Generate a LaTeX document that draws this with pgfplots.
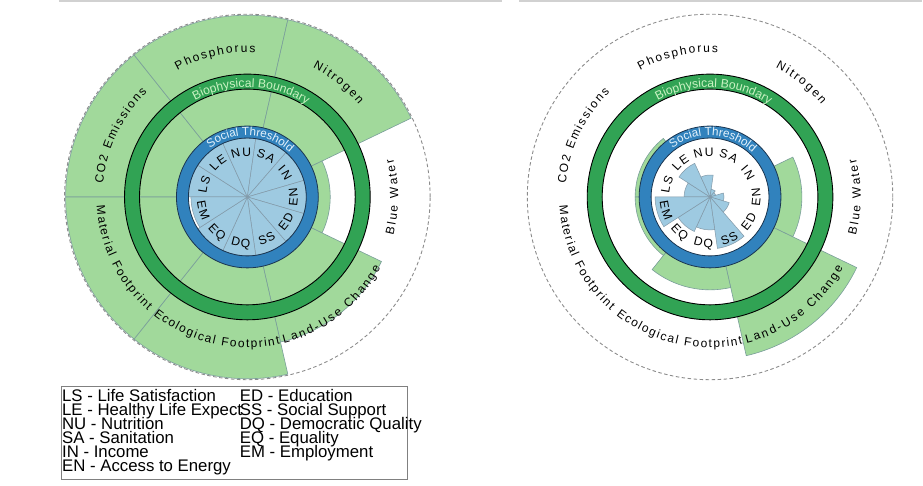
\documentclass[border=0pt]{standalone}
\usepackage{pgfplots}
\pgfplotsset{compat=1.18}
\usepackage{pgfplotstable}
\usepackage{fontspec}
\setmainfont{Liberation Sans}
\usetikzlibrary{decorations.text}

\definecolor{bgreen}{HTML}{A1D99B}
\definecolor{sline}{HTML}{7A9E9A}
\definecolor{dgreen}{HTML}{31A354}
\definecolor{bluering}{HTML}{3182BD}
\definecolor{blueedge}{HTML}{1B3550}
\definecolor{lblue}{HTML}{9ECAE1}
\definecolor{socline}{HTML}{8299A8}
\definecolor{bbtext}{HTML}{C9F2C2}
\definecolor{sttext}{HTML}{E4F2FC}
\definecolor{dashc}{HTML}{8C8C8C}

\pgfdeclareplotmark{wedge}{%
  \pgfmathsetmacro\wAv{\wA}\pgfmathsetmacro\wBv{\wB}\pgfmathsetmacro\wRv{\wR}%
  \pgfpathmoveto{\pgfpointorigin}%
  \pgfpathlineto{\pgfpointpolar{\wAv}{\wRv pt}}%
  \pgfpatharc{\wAv}{\wBv}{\wRv pt}%
  \pgfpathclose
  \pgfusepathqfillstroke}
\pgfdeclareplotmark{ring}{%
  \pgfmathsetmacro\wIv{\wI}\pgfmathsetmacro\wRv{\wR}%
  \pgfpathcircle{\pgfpointorigin}{\wRv pt}%
  \pgfpathcircle{\pgfpointorigin}{\wIv pt}%
  \pgfseteorule
  \pgfusepathqfillstroke}
\pgfdeclareplotmark{disk}{%
  \pgfmathsetmacro\wRv{\wR}%
  \pgfpathcircle{\pgfpointorigin}{\wRv pt}%
  \pgfusepathqfill}
\pgfdeclareplotmark{circ}{%
  \pgfmathsetmacro\wRv{\wR}%
  \pgfpathcircle{\pgfpointorigin}{\wRv pt}%
  \pgfusepathqstroke}

\pgfplotsset{
  wedgeplot/.style={scatter, only marks, mark=wedge, point meta=\thisrow{r},
    visualization depends on={\thisrow{a1}\as\wA},
    visualization depends on={\thisrow{a2}\as\wB},
    visualization depends on={\thisrow{r}\as\wR}},
  ringplot/.style={scatter, only marks, mark=ring, point meta=\thisrow{ro},
    visualization depends on={\thisrow{ri}\as\wI},
    visualization depends on={\thisrow{ro}\as\wR}},
  diskplot/.style={scatter, only marks, mark=disk, point meta=\thisrow{ro},
    visualization depends on={\thisrow{ro}\as\wR}},
  circplot/.style={scatter, only marks, mark=circ, point meta=\thisrow{ro},
    visualization depends on={\thisrow{ro}\as\wR}},
}

% biophysical indicators (radius in px), left chart
\pgfplotstableread{
cx cy a1 a2 r
247.7 289 180 128.57 182
247.7 289 128.57 77.14 182
247.7 289 77.14 25.71 182
247.7 289 25.71 -25.71 83
247.7 289 -25.71 -77.14 149
247.7 289 -77.14 -128.57 182
247.7 289 -128.57 -180 182
}\bioL
% biophysical indicators, right chart
\pgfplotstableread{
cx cy a1 a2 r
711 289 180 128.57 75
711 289 128.57 77.14 66
711 289 77.14 25.71 66
711 289 25.71 -25.71 92
711 289 -25.71 -77.14 163
711 289 -77.14 -128.57 93
711 289 -128.57 -180 75
}\bioR
% social indicators, left chart
\pgfplotstableread{
cx cy a1 a2 r
247.7 289 180 147.27 59
247.7 289 147.27 114.55 59
247.7 289 114.55 81.82 59
247.7 289 81.82 49.09 59
247.7 289 49.09 16.36 59
247.7 289 16.36 -16.36 59
247.7 289 -16.36 -49.09 59
247.7 289 -49.09 -81.82 59
247.7 289 -81.82 -114.55 59
247.7 289 -114.55 -147.27 59
247.7 289 -147.27 -180 56.5
}\socL
% social indicators, right chart
\pgfplotstableread{
cx cy a1 a2 r
711 289 180 147.27 26
711 289 147.27 114.55 37
711 289 114.55 81.82 22
711 289 81.82 49.09 8
711 289 49.09 16.36 6
711 289 16.36 -16.36 14
711 289 -16.36 -49.09 20
711 289 -49.09 -81.82 52
711 289 -81.82 -114.55 33
711 289 -114.55 -147.27 38
711 289 -147.27 -180 55
}\socR
% rings
\pgfplotstableread{
cx cy ri ro
247.7 289 108 123
711 289 108 123
}\greenRing
\pgfplotstableread{
cx cy ri ro
247.7 289 59 71
711 289 59 71
}\blueRing
\pgfplotstableread{
cx cy ro
247.7 289 59
711 289 59
}\innerDisk
\pgfplotstableread{
cx cy ro
247.7 289 183
711 289 183
}\outerCirc

\newcommand\bio{\fontsize{12}{14}\selectfont}
\newcommand\soc{\fontsize{12.2}{14}\selectfont}
\newcommand\bbf{\fontsize{12.2}{14}\selectfont\color{bbtext}}
\newcommand\stf{\fontsize{11.7}{14}\selectfont\color{sttext}}

% curved labels (drawn after the axis; axis units are 1pt with origin at (0,0))
\newcommand\cwlab[6]{%
  \path[decorate, decoration={text along path, text align=fit to path, text={#6}}]
    ([shift={({#3+#5/2}:#4pt)}]#1pt,#2pt) arc[start angle={#3+#5/2}, end angle={#3-#5/2}, radius=#4pt];}
\newcommand\ccwlab[6]{%
  \path[decorate, decoration={text along path, text align=fit to path, text={#6}}]
    ([shift={({#3-#5/2}:#4pt)}]#1pt,#2pt) arc[start angle={#3-#5/2}, end angle={#3+#5/2}, radius=#4pt];}
\newcommand\cwlabc[6]{%
  \path[decorate, decoration={text along path, text align=center, text={#6}}]
    ([shift={({#3+#5/2}:#4pt)}]#1pt,#2pt) arc[start angle={#3+#5/2}, end angle={#3-#5/2}, radius=#4pt];}

\newcommand\chartlabels[2]{%
  \cwlab{#1}{#2}{154.29}{145}{41}{|\bio|CO2 Emissions}
  \cwlab{#1}{#2}{102.86}{145}{32}{|\bio|Phosphorus}
  \cwlab{#1}{#2}{51.43}{145}{23.4}{|\bio|Nitrogen}
  \ccwlab{#1}{#2}{0}{151}{29.4}{|\bio|Blue Water}
  \ccwlab{#1}{#2}{-52}{151}{48}{|\bio|Land-Use Change}
  \ccwlab{#1}{#2}{-103}{151}{51}{|\bio|Ecological Footprint}
  \ccwlab{#1}{#2}{-154}{151}{45.5}{|\bio|Material Footprint}
  \cwlabc{#1}{#2}{88}{110}{100}{|\bbf|Biophysical Boundary}
  \cwlabc{#1}{#2}{87}{61.5}{120}{|\stf|Social Threshold}
  \cwlab{#1}{#2}{163.64}{41}{23}{|\soc|LS}
  \cwlab{#1}{#2}{130.91}{41}{23}{|\soc|LE}
  \cwlab{#1}{#2}{98.18}{41}{26.7}{|\soc|NU}
  \cwlab{#1}{#2}{65.45}{41}{24.8}{|\soc|SA}
  \cwlab{#1}{#2}{32.73}{41}{19}{|\soc|IN}
  \ccwlab{#1}{#2}{0}{50.5}{21}{|\soc|EN}
  \ccwlab{#1}{#2}{-32.73}{50.5}{21}{|\soc|ED}
  \ccwlab{#1}{#2}{-65.45}{50.5}{20.2}{|\soc|SS}
  \ccwlab{#1}{#2}{-98.18}{50.5}{22.5}{|\soc|DQ}
  \ccwlab{#1}{#2}{-130.91}{50.5}{21.7}{|\soc|EQ}
  \ccwlab{#1}{#2}{-163.64}{50.5}{22.5}{|\soc|EM}
}

\begin{document}
\begin{tikzpicture}
\begin{axis}[x=1pt, y=1pt, xmin=0, xmax=923, ymin=0, ymax=486,
  hide axis, clip=false, at={(0,0)}, anchor=south west,
  point meta min=0, point meta max=400]
\path (axis cs:0,0) rectangle (axis cs:923,486);
% top frame lines
\addplot[black!18, line width=2.5pt] coordinates {(59,485) (503,485)};
\addplot[black!18, line width=2.5pt] coordinates {(520,485) (923,485)};
% biophysical sectors
\addplot[wedgeplot, scatter/use mapped color={draw=sline, fill=bgreen}, mark options={line width=0.6pt}] table {\bioL};
\addplot[wedgeplot, scatter/use mapped color={draw=sline, fill=bgreen}, mark options={line width=0.6pt}] table {\bioR};
% biophysical boundary ring
\addplot[ringplot, scatter/use mapped color={draw=black, fill=dgreen}, mark options={line width=0.9pt}] table {\greenRing};
% inner white disk
\addplot[diskplot, scatter/use mapped color={draw=white, fill=white}] table {\innerDisk};
% social sectors
\addplot[wedgeplot, scatter/use mapped color={draw=socline, fill=lblue}, mark options={line width=0.5pt}] table {\socL};
\addplot[wedgeplot, scatter/use mapped color={draw=socline, fill=lblue}, mark options={line width=0.5pt}] table {\socR};
% social threshold ring
\addplot[ringplot, scatter/use mapped color={draw=blueedge, fill=bluering}, mark options={line width=0.8pt}] table {\blueRing};
% outer dashed circle
\addplot[circplot, scatter/use mapped color={draw=dashc, fill=white}, mark options={line width=0.9pt, dash pattern=on 3.5pt off 2.5pt}] table {\outerCirc};
% legend box
\draw[color=black!50, line width=0.8pt] (axis cs:61.7,6) rectangle (axis cs:408,99.3);
\begin{scope}[every node/.style={anchor=base west, inner sep=0pt, font=\fontsize{16.8}{14}\selectfont}]
\node at (axis cs:62,84.3) {LS - Life Satisfaction};
\node at (axis cs:62,70.3) {LE - Healthy Life Expect};
\node at (axis cs:62,56.3) {NU - Nutrition};
\node at (axis cs:62,42.3) {SA - Sanitation};
\node at (axis cs:62,28.3) {IN - Income};
\node at (axis cs:62,14.3) {EN - Access to Energy};
\node at (axis cs:240,84.3) {ED - Education};
\node at (axis cs:240,70.3) {SS - Social Support};
\node at (axis cs:240,56.3) {DQ - Democratic Quality};
\node at (axis cs:240,42.3) {EQ - Equality};
\node at (axis cs:240,28.3) {EM - Employment};
\end{scope}
\end{axis}
% labels on top of all plots
\chartlabels{247.7}{289}
\chartlabels{711}{289}
\end{tikzpicture}
\end{document}
